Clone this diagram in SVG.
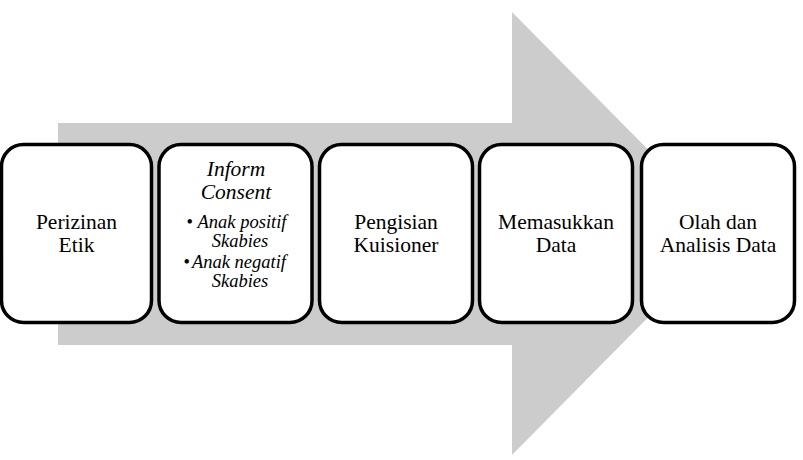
<svg xmlns="http://www.w3.org/2000/svg" width="803" height="460" viewBox="0 0 803 460">
<style>
.box{fill:#fff;stroke:#000;stroke-width:3.5}
.t{text-anchor:middle}
.i{font-style:italic}
.s{font-size:18.5px}
</style>
<g id="arrow"><polygon points="58,123 512,123 512,12 731,233.5 512,455 512,345 58,345" fill="#cccccc"/></g>
<g id="connectors"></g>
<g font-family="Liberation Serif, DejaVu Serif, serif" font-size="21.5" fill="#000">
<g id="n1"><rect class="box" x="1.5" y="144.5" width="150" height="178" rx="22"/><text class="t" x="76.5" y="229">Perizinan</text><text class="t" x="76.5" y="252">Etik</text></g>
<g id="n2"><rect class="box" x="159" y="144.5" width="153" height="178" rx="22"/>
<text class="t i" x="236" y="176">Inform</text><text class="t i" x="236" y="199">Consent</text>
<text class="s" x="186.5" y="228">•</text><text class="t i s" x="242" y="228">Anak positif</text><text class="t i s" x="240" y="247">Skabies</text>
<text class="s" x="183.5" y="268">•</text><text class="t i s" x="239" y="268">Anak negatif</text><text class="t i s" x="240" y="287">Skabies</text></g>
<g id="n3"><rect class="box" x="319.5" y="144.5" width="153" height="178" rx="22"/><text class="t" x="396" y="229">Pengisian</text><text class="t" x="396" y="252">Kuisioner</text></g>
<g id="n4"><rect class="box" x="479.5" y="144.5" width="153" height="178" rx="22"/><text class="t" x="556" y="229">Memasukkan</text><text class="t" x="556" y="252">Data</text></g>
<g id="n5"><rect class="box" x="641.5" y="144.5" width="153" height="178" rx="22"/><text class="t" x="718" y="229">Olah dan</text><text class="t" x="718" y="252">Analisis Data</text></g>
</g>
</svg>
